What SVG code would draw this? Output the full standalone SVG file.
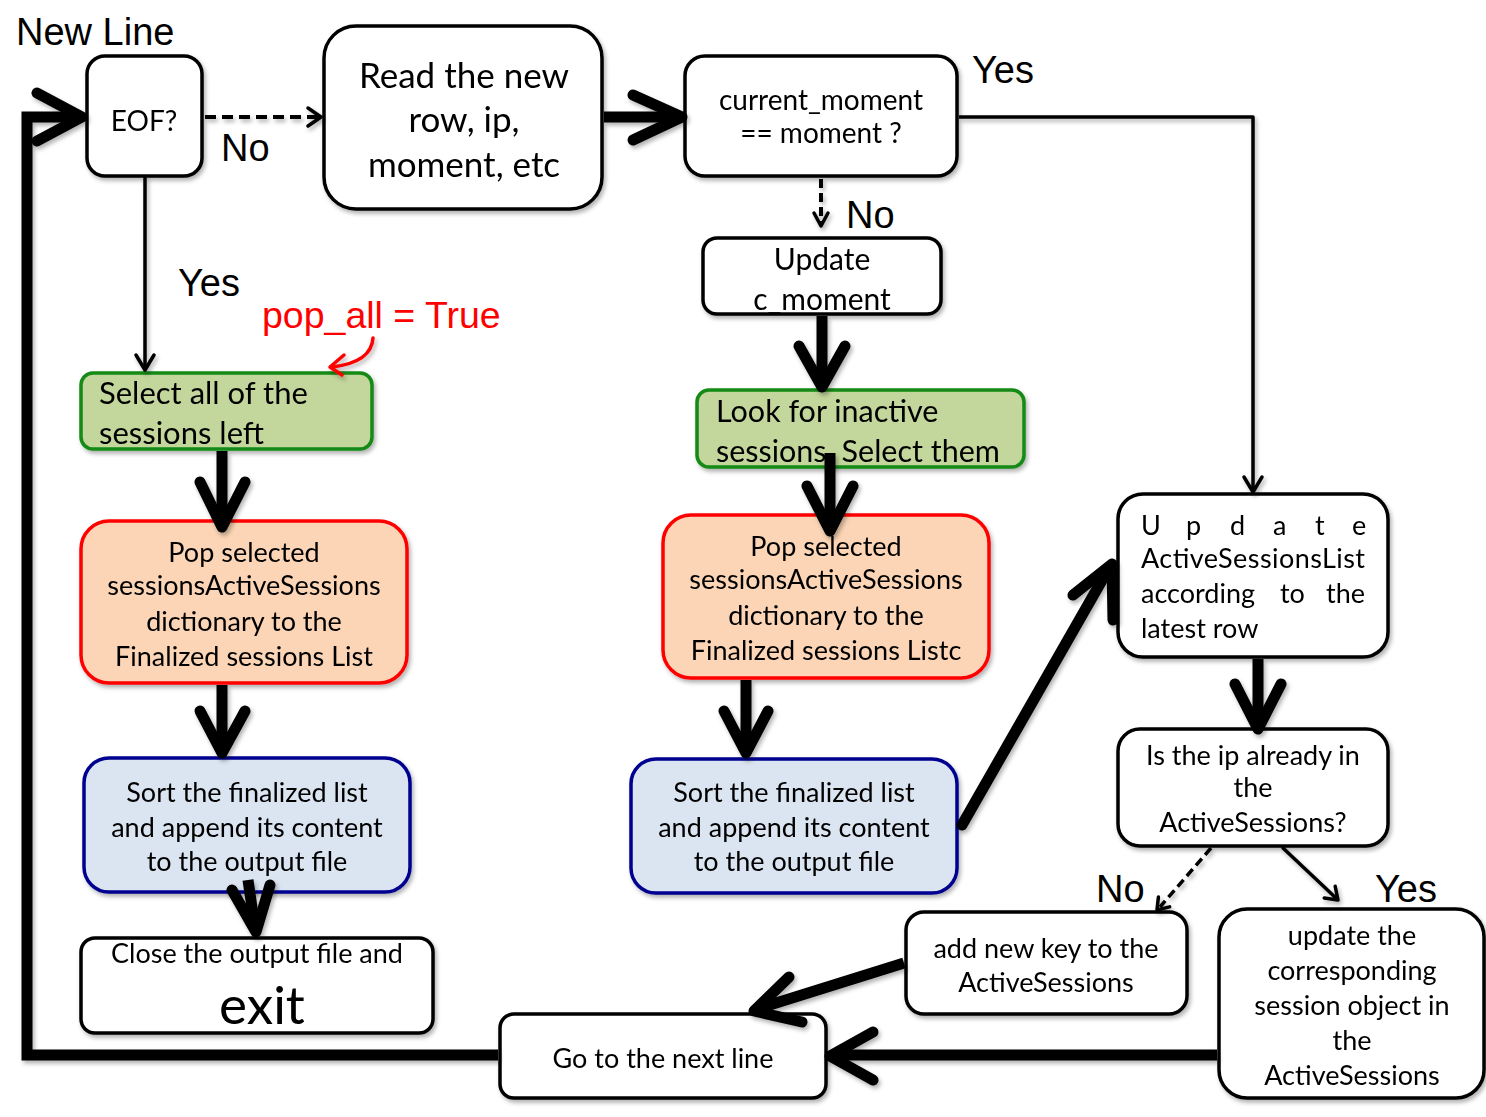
<svg xmlns="http://www.w3.org/2000/svg" width="1486" height="1117" viewBox="0 0 1486 1117">
<defs>
<filter id="sh" x="-10%" y="-10%" width="130%" height="130%">
<feDropShadow dx="2" dy="3" stdDeviation="2" flood-color="#000" flood-opacity="0.3"/>
</filter>
<style>
.box{fill:#fff;stroke:#000;stroke-width:3.5}
.grn{fill:#c3d69b;stroke:#138a13;stroke-width:3.5}
.org{fill:#fbd5b5;stroke:#ff0000;stroke-width:3.5}
.blu{fill:#dbe5f1;stroke:#000090;stroke-width:3.5}
.t{font-family:Lato,"Open Sans",sans-serif;font-size:27px;fill:#000;text-anchor:middle}
.tl{text-anchor:start}
.lbl{font-family:"Liberation Sans",Arial,sans-serif;font-size:38px;fill:#000}
.thick{fill:none;stroke:#000;stroke-width:11;stroke-linecap:round;stroke-linejoin:round}
.thin{fill:none;stroke:#000;stroke-width:3.5;stroke-linecap:round;stroke-linejoin:round}
.dash{fill:none;stroke:#000;stroke-width:4;stroke-dasharray:11 6}
</style>
</defs>
<rect width="1486" height="1117" fill="#fff"/>

<g id="n-eof" filter="url(#sh)">
<rect class="box" x="87" y="56" width="115" height="120" rx="18"/>
<text class="t" x="144" y="131" style="font-size:28px">EOF?</text>
</g>
<g id="n-read" filter="url(#sh)">
<rect class="box" x="324" y="26" width="278" height="183" rx="32"/>
<text class="t" x="464" y="88" style="font-size:35px">Read the new</text>
<text class="t" x="464" y="132" style="font-size:35px">row, ip,</text>
<text class="t" x="464" y="177" style="font-size:35px">moment, etc</text>
</g>
<g id="n-current" filter="url(#sh)">
<rect class="box" x="685" y="56" width="272" height="120" rx="20"/>
<text class="t" x="821" y="110" style="font-size:28px">current_moment</text>
<text class="t" x="821" y="143" style="font-size:28px">== moment ?</text>
</g>
<g id="n-cmoment" filter="url(#sh)">
<rect x="703" y="238" width="238" height="76" rx="14" fill="#fff"/>
<text class="t" x="822" y="270" style="font-size:30px">Update</text>
<text class="t" x="822" y="310" style="font-size:30px">c_moment</text>
<rect class="box" x="703" y="238" width="238" height="76" rx="14" style="fill:none"/>
</g>
<g id="n-selectall" filter="url(#sh)">
<rect class="grn" x="81" y="373" width="291" height="76" rx="12"/>
<text class="t tl" x="99" y="404" style="font-size:31px">Select all of the</text>
<text class="t tl" x="99" y="444" style="font-size:31px">sessions left</text>
</g>
<g id="n-popleft" filter="url(#sh)">
<rect class="org" x="81" y="521" width="326" height="162" rx="28"/>
<text class="t" x="244" y="562">Pop selected</text>
<text class="t" x="244" y="595">sessionsActiveSessions</text>
<text class="t" x="244" y="631">dictionary to the</text>
<text class="t" x="244" y="666">Finalized sessions List</text>
</g>
<g id="n-sortleft" filter="url(#sh)">
<rect class="blu" x="84" y="758" width="326" height="134" rx="25"/>
<text class="t" x="247" y="802">Sort the finalized list</text>
<text class="t" x="247" y="837">and append its content</text>
<text class="t" x="247" y="871">to the output file</text>
</g>
<g id="n-close" filter="url(#sh)">
<rect class="box" x="81" y="938" width="352" height="95" rx="14"/>
<text class="t" x="257" y="963">Close the output file and</text>
<text class="t" x="262" y="1024" style="font-size:53px">exit</text>
</g>
<g id="n-look" filter="url(#sh)">
<rect class="grn" x="697" y="390" width="327" height="77" rx="12"/>
<text class="t tl" x="716" y="422" style="font-size:30.5px">Look for inactive</text>
<text class="t tl" x="716" y="462" style="font-size:30.5px">sessions. Select them</text>
</g>
<g id="n-popmid" filter="url(#sh)">
<rect class="org" x="663" y="515" width="326" height="163" rx="28"/>
<text class="t" x="826" y="556">Pop selected</text>
<text class="t" x="826" y="589">sessionsActiveSessions</text>
<text class="t" x="826" y="625">dictionary to the</text>
<text class="t" x="826" y="660">Finalized sessions Listc</text>
</g>
<g id="n-sortmid" filter="url(#sh)">
<rect class="blu" x="631" y="759" width="326" height="134" rx="25"/>
<text class="t" x="794" y="802">Sort the finalized list</text>
<text class="t" x="794" y="837">and append its content</text>
<text class="t" x="794" y="871">to the output file</text>
</g>
<g id="n-updateasl" filter="url(#sh)">
<rect class="box" x="1118" y="494" width="270" height="163" rx="25"/>
<text class="t tl" x="1141 1186 1230 1273 1315 1352" y="535">Update</text>
<text class="t tl" x="1141" y="568" textLength="224" lengthAdjust="spacing">ActiveSessionsList</text>
<text class="t tl" y="603"><tspan x="1141">according </tspan><tspan x="1280">to </tspan><tspan x="1326">the</tspan></text>
<text class="t tl" x="1141" y="638">latest row</text>
</g>
<g id="n-isip" filter="url(#sh)">
<rect class="box" x="1118" y="729" width="270" height="117" rx="22"/>
<text class="t" x="1253" y="765">Is the ip already in</text>
<text class="t" x="1253" y="797">the</text>
<text class="t" x="1253" y="832">ActiveSessions?</text>
</g>
<g id="n-addnew" filter="url(#sh)">
<rect class="box" x="906" y="912" width="281" height="102" rx="18"/>
<text class="t" x="1046" y="958">add new key to the</text>
<text class="t" x="1046" y="992">ActiveSessions</text>
</g>
<g id="n-updatecorr" filter="url(#sh)">
<rect class="box" x="1219" y="909" width="265" height="189" rx="28"/>
<text class="t" x="1352" y="945">update the</text>
<text class="t" x="1352" y="980">corresponding</text>
<text class="t" x="1352" y="1015">session object in</text>
<text class="t" x="1352" y="1050">the</text>
<text class="t" x="1352" y="1085">ActiveSessions</text>
</g>
<g id="n-gonext" filter="url(#sh)">
<rect class="box" x="500" y="1014" width="326" height="84" rx="14"/>
<text class="t" x="663" y="1068">Go to the next line</text>
</g>

<g id="connectors" filter="url(#sh)">
<!-- loop back -->
<path class="thick" d="M498,1055 H27 V117 H80" style="stroke-linecap:butt;stroke-linejoin:miter"/>
<path class="thick" d="M37,93 L82,117 L37,141"/>
<!-- EOF -> Read -->
<path class="dash" d="M205,117 H320"/>
<path class="thin" d="M308,108 L321,117 L308,126"/>
<!-- Read -> current -->
<path class="thick" d="M604,117 H678" style="stroke-linecap:butt"/>
<path class="thick" d="M633,95 L682,117 L633,140"/>
<!-- EOF -> Select -->
<path class="thin" d="M145,178 V369"/>
<path class="thin" d="M136,355 L145,370 L154,355"/>
<!-- red curve -->
<path d="M373,338 C372,354 358,364 332,367" fill="none" stroke="#ff0000" stroke-width="3.5" stroke-linecap="round"/>
<path d="M344,355 L330,367 L342,375" fill="none" stroke="#ff0000" stroke-width="3.5" stroke-linecap="round" stroke-linejoin="round"/>
<!-- current -> Update ASL (Yes) -->
<path class="thin" d="M959,117 H1253 V491" style="stroke-linecap:butt"/>
<path class="thin" d="M1244,477 L1253,492 L1262,477"/>
<!-- current -> Update c_moment (No) -->
<path class="dash" d="M821,179 V224" style="stroke-dasharray:9 5"/>
<path class="thin" d="M814,213 L821,226 L828,213"/>
<!-- Update -> Look -->
<path class="thick" d="M822,316 V382" style="stroke-linecap:butt"/>
<path class="thick" d="M799,346 L822,387 L845,346"/>
<!-- Look -> Pop mid -->
<path class="thick" d="M830,453 V526" style="stroke-linecap:butt"/>
<path class="thick" d="M807,486 L830,531 L853,486"/>
<!-- Pop mid -> Sort mid -->
<path class="thick" d="M746,680 V748" style="stroke-linecap:butt"/>
<path class="thick" d="M724,711 L746,753 L768,711"/>
<!-- Sort mid -> Update ASL -->
<path class="thick" d="M962,825 L1109,568"/>
<path class="thick" d="M1073,595 L1112,564 L1113,620"/>
<!-- Select -> Pop left -->
<path class="thick" d="M222,451 V522" style="stroke-linecap:butt"/>
<path class="thick" d="M200,482 L222,527 L245,482"/>
<!-- Pop left -> Sort left -->
<path class="thick" d="M222,685 V748" style="stroke-linecap:butt"/>
<path class="thick" d="M200,711 L222,753 L245,711"/>
<!-- Sort left -> Close -->
<path class="thick" d="M248,880 L255,928" style="stroke-linecap:butt"/>
<path class="thick" d="M232,890 L256,932 L270,885"/>
<!-- add new -> Go next -->
<path class="thick" d="M904,963 L760,1008" style="stroke-linecap:butt"/>
<path class="thick" d="M789,977 L754,1011 L802,1022"/>
<!-- update corr -> Go next -->
<path class="thick" d="M1217,1055 H834" style="stroke-linecap:butt"/>
<path class="thick" d="M873,1032 L830,1056 L873,1080"/>
<!-- Update ASL -> Is ip -->
<path class="thick" d="M1258,659 V724" style="stroke-linecap:butt"/>
<path class="thick" d="M1235,684 L1258,729 L1281,684"/>
<!-- Is ip -> add new (No) -->
<path class="dash" d="M1211,848 L1160,907" style="stroke-width:3.5;stroke-dasharray:9 5"/>
<path class="thin" d="M1169.6,906.9 L1157,910 L1158.4,897.1"/>
<!-- Is ip -> update corr (Yes) -->
<path class="thin" d="M1283,848 L1337,899"/>
<path class="thin" d="M1335.2,886.3 L1338,900 L1324.2,898"/>
</g>

<g id="labels">
<text class="lbl" x="16" y="45">New Line</text>
<text class="lbl" x="221" y="161">No</text>
<text class="lbl" x="972" y="83">Yes</text>
<text class="lbl" x="846" y="228">No</text>
<text class="lbl" x="178" y="296">Yes</text>
<text class="lbl" x="262" y="328" style="fill:#ff0000;font-size:37.5px">pop_all = True</text>
<text class="lbl" x="1096" y="902">No</text>
<text class="lbl" x="1375" y="902">Yes</text>
</g>
</svg>
